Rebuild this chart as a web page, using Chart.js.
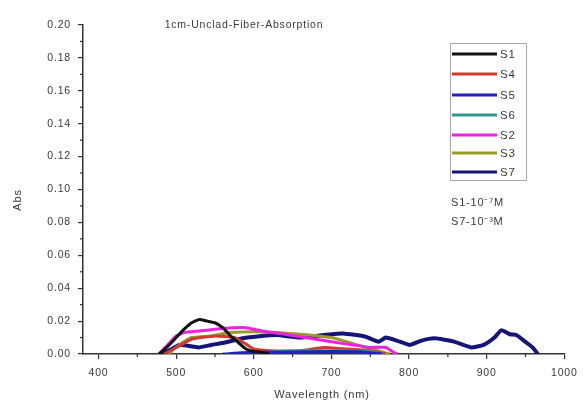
<!DOCTYPE html>
<html>
<head>
<meta charset="utf-8">
<script src="https://cdn.jsdelivr.net/npm/chart.js@4"></script>
<style>
  html, body { margin: 0; padding: 0; background: #fff; }
  #wrap { width: 584px; height: 404px; position: relative; }
</style>
</head>
<body>
<div id="wrap"><canvas id="chart"></canvas></div>
<script>
// ---------------- DATA ----------------
const xTicks = [400, 500, 600, 700, 800, 900, 1000];
const yTicks = [0, 0.02, 0.04, 0.06, 0.08, 0.10, 0.12, 0.14, 0.16, 0.18, 0.20];

const s1Wl  = [478, 490, 500, 510, 520, 530, 540, 550, 560, 570, 580, 590, 600, 610, 620];
const s1Abs = [0, 0.005, 0.010, 0.015, 0.019, 0.021, 0.020, 0.019, 0.016, 0.011, 0.007, 0.003, 0.0015, 0.001, 0];

const s4Wl  = [485, 500, 520, 550, 575, 590, 600, 620, 660, 690, 720, 750, 770];
const s4Abs = [0, 0.004, 0.009, 0.011, 0.010, 0.006, 0.003, 0.002, 0.002, 0.004, 0.003, 0.002, 0];

const s5Wl  = [560, 600, 650, 700, 740, 765];
const s5Abs = [0, 0.001, 0.0012, 0.0015, 0.0012, 0];

const s6Wl  = [600, 630, 680, 720, 750, 765];
const s6Abs = [0, 0.0015, 0.002, 0.0018, 0.0015, 0];

const s2Wl  = [478, 490, 500, 510, 530, 560, 590, 610, 640, 680, 720, 750, 770, 780, 785];
const s2Abs = [0, 0.006, 0.011, 0.013, 0.014, 0.0155, 0.016, 0.014, 0.012, 0.009, 0.006, 0.004, 0.004, 0.001, 0];

const s3Wl  = [490, 505, 520, 545, 570, 600, 630, 660, 700, 730, 760, 775];
const s3Abs = [0, 0.006, 0.010, 0.011, 0.013, 0.0135, 0.013, 0.012, 0.010, 0.006, 0.002, 0];

const s7Wl  = [478, 490, 504, 515, 529, 545, 563, 580, 592, 610, 630, 660, 690, 715, 744, 761, 770, 785, 801, 815, 833, 858, 880, 896, 910, 919, 930, 938, 951, 959, 966];
const s7Abs = [0, 0.002, 0.0055, 0.005, 0.004, 0.0055, 0.007, 0.009, 0.010, 0.011, 0.0115, 0.010, 0.0115, 0.0125, 0.0105, 0.0075, 0.010, 0.008, 0.0055, 0.008, 0.0095, 0.0075, 0.004, 0.0055, 0.010, 0.0145, 0.012, 0.0115, 0.007, 0.004, 0];

const seriesNames  = ["S1", "S4", "S5", "S6", "S2", "S3", "S7"];
const seriesColors = ["#111111", "#d23a30", "#2020c8", "#2f9a92", "#f020e0", "#9a9a2a", "#14147a"];
const seriesWl  = [s1Wl, s4Wl, s5Wl, s6Wl, s2Wl, s3Wl, s7Wl];
const seriesAbs = [s1Abs, s4Abs, s5Abs, s6Abs, s2Abs, s3Abs, s7Abs];
const notes = ["S1-10\u207B\u2077M", "S7-10\u207B\u00B3M"];

// draw order: S7 under the others
const drawOrder = [6, 5, 1, 3, 2, 4, 0];

const datasets = seriesNames.map((name, i) => ({
    label: name,
    data: seriesWl[i].map((w, k) => ({ x: w, y: seriesAbs[i][k] })),
    borderColor: seriesColors[i],
    borderWidth: i === 6 ? 4 : 3,
    pointRadius: 0,
    tension: 0.15,
    order: drawOrder.indexOf(i) * -1
}));

const font = "Liberation Sans, Arial, sans-serif";
const textCol = "#3a3a3a";

// ---------------- EXTRAS: minor ticks, titles, legend ----------------
const extras = {
    id: "extras",
    beforeDraw(chart) {
        chart.ctx.letterSpacing = "0.8px";
    },
    afterDraw(chart) {
        const ctx = chart.ctx;
        const xs = chart.scales.x, ys = chart.scales.y;
        const a = chart.chartArea;
        ctx.save();
        ctx.strokeStyle = "#333";
        ctx.lineWidth = 1.2;
        // minor ticks
        for (let v = 450; v < 1000; v += 100) {
            const px = xs.getPixelForValue(v);
            ctx.beginPath(); ctx.moveTo(px, a.bottom); ctx.lineTo(px, a.bottom + 3); ctx.stroke();
        }
        for (let v = 0.01; v < 0.2; v += 0.02) {
            const py = ys.getPixelForValue(v);
            ctx.beginPath(); ctx.moveTo(a.left, py); ctx.lineTo(a.left - 3, py); ctx.stroke();
        }

        ctx.fillStyle = textCol;
        ctx.font = "10.5px " + font;
        ctx.textBaseline = "middle";
        // title
        ctx.textAlign = "center";
        ctx.fillText("1cm-Unclad-Fiber-Absorption", 244, 25);
        // axis titles
        ctx.font = "11px " + font;
        ctx.fillText("Wavelength (nm)", 322, 395);
        ctx.save();
        ctx.translate(18, 200);
        ctx.rotate(-Math.PI / 2);
        ctx.fillText("Abs", 0, 0);
        ctx.restore();

        // legend
        ctx.strokeStyle = "#aaa";
        ctx.lineWidth = 1;
        ctx.strokeRect(450.5, 43.5, 76, 137);
        ctx.textAlign = "left";
        ctx.font = "11.5px " + font;
        const ly = [54, 74, 95, 115, 135, 153, 172];
        chart.data.datasets.forEach((ds, i) => {
            ctx.strokeStyle = ds.borderColor;
            ctx.lineWidth = 3;
            ctx.beginPath(); ctx.moveTo(452, ly[i]); ctx.lineTo(497, ly[i]); ctx.stroke();
            ctx.fillText(ds.label, 500, ly[i] + 1);
        });
        ctx.font = "11px " + font;
        ctx.fillText(notes[0], 451, 203);
        ctx.fillText(notes[1], 451, 222);
        ctx.restore();
    }
};

// ---------------- CHART ----------------
new Chart(document.getElementById("chart"), {
    type: "line",
    data: { datasets },
    options: {
        responsive: true,
        maintainAspectRatio: false,
        animation: false,
        layout: { padding: { left: 0, top: 25, right: 11, bottom: 0 } },
        plugins: { legend: { display: false }, tooltip: { enabled: false } },
        scales: {
            x: {
                type: "linear",
                min: 380, max: 1000,
                afterFit: s => { s.height = 50; },
                afterBuildTicks: s => { s.ticks = xTicks.map(v => ({ value: v })); },
                grid: { drawOnChartArea: false, tickLength: 5, color: "#333", lineWidth: 1.2 },
                border: { display: true, color: "#333", width: 1.5 },
                ticks: {
                    font: { family: font, size: 10.5 }, color: textCol, padding: 8,
                    maxRotation: 0, autoSkip: false,
                    callback: v => String(v)
                }
            },
            y: {
                min: 0, max: 0.2,
                afterFit: s => { s.width = 83; },
                afterBuildTicks: s => { s.ticks = yTicks.map(v => ({ value: v })); },
                grid: { drawOnChartArea: false, tickLength: 5, color: "#333", lineWidth: 1.2 },
                border: { display: true, color: "#333", width: 1.5 },
                ticks: {
                    font: { family: font, size: 10.5 }, color: textCol, padding: 7,
                    autoSkip: false,
                    callback: v => v.toFixed(2)
                }
            }
        }
    },
    plugins: [extras]
});
</script>
</body>
</html>
